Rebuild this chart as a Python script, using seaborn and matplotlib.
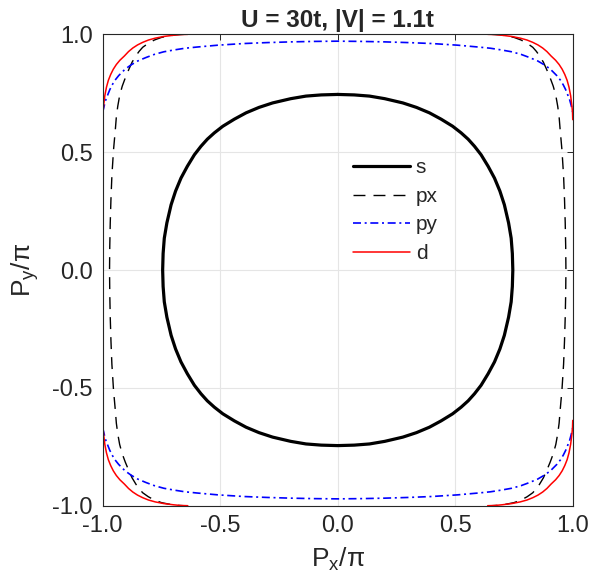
import numpy as np
import pandas as pd
import matplotlib
matplotlib.use("Agg")
import matplotlib.pyplot as plt
from matplotlib.lines import Line2D
import seaborn as sns

# Fermi-surface contours in units of pi, first-quadrant points
# s-wave: closed pocket around the zone centre, from (0, top) to (side, 0)
s_x = [0.000, 0.070, 0.135, 0.200, 0.277, 0.335, 0.390, 0.440, 0.489, 0.525,
       0.555, 0.582, 0.610, 0.640, 0.667, 0.690, 0.709, 0.727, 0.738, 0.743, 0.745]
s_y = [0.745, 0.743, 0.738, 0.727, 0.709, 0.690, 0.667, 0.640, 0.610, 0.582,
       0.555, 0.525, 0.489, 0.440, 0.390, 0.335, 0.277, 0.200, 0.135, 0.070, 0.000]

# px: open contour from the top zone edge down to the Px axis
px_x = [0.655, 0.690, 0.720, 0.750, 0.780, 0.806, 0.830, 0.845, 0.858, 0.875,
        0.889, 0.904, 0.917, 0.928, 0.936, 0.942, 0.946, 0.954, 0.961, 0.965,
        0.968, 0.970, 0.971]
px_y = [1.000, 0.998, 0.993, 0.987, 0.976, 0.962, 0.945, 0.928, 0.910, 0.882,
        0.851, 0.815, 0.780, 0.740, 0.695, 0.650, 0.600, 0.510, 0.400, 0.300,
        0.200, 0.100, 0.000]

# py: open contour from the Py axis out to the right zone edge
py_x = [0.000, 0.100, 0.200, 0.300, 0.400, 0.510, 0.600, 0.650, 0.695, 0.740,
        0.780, 0.815, 0.851, 0.880, 0.905, 0.932, 0.948, 0.960, 0.970, 0.978,
        0.987, 0.993, 1.000]
py_y = [0.971, 0.970, 0.968, 0.965, 0.961, 0.954, 0.946, 0.941, 0.934, 0.926,
        0.915, 0.902, 0.887, 0.870, 0.852, 0.825, 0.805, 0.785, 0.765, 0.745,
        0.722, 0.700, 0.670]

# d-wave: arc around the zone corner (1, 1)
d_x = [0.638, 0.670, 0.700, 0.740, 0.776, 0.805, 0.830, 0.852, 0.872, 0.890,
       0.908, 0.927, 0.942, 0.955, 0.966, 0.976, 0.984, 0.991, 0.996, 0.999, 1.000]
d_y = [1.000, 0.999, 0.996, 0.991, 0.984, 0.976, 0.966, 0.955, 0.942, 0.927,
       0.908, 0.890, 0.872, 0.852, 0.830, 0.805, 0.776, 0.740, 0.700, 0.670, 0.638]

series_names = ["s", "px", "py", "d"]
tick_values = [-1.0, -0.5, 0.0, 0.5, 1.0]
tick_labels = ["-1.0", "-0.5", "0.0", "0.5", "1.0"]


def rows(name, branch, x, y):
    return pd.DataFrame({"series": name, "branch": branch,
                         "x": np.asarray(x, float), "y": np.asarray(y, float)})


def closed_pocket(qx, qy):
    qx, qy = np.asarray(qx), np.asarray(qy)
    x = np.concatenate([qx, qx[::-1][1:], -qx[1:], -qx[::-1][1:]])
    y = np.concatenate([qy, -qy[::-1][1:], -qy[1:], qy[::-1][1:]])
    return [rows("s", 0, x, y)]


def vertical_branches(name, qx, qy):
    qx, qy = np.asarray(qx), np.asarray(qy)
    x = np.concatenate([qx, qx[::-1][1:]])
    y = np.concatenate([qy, -qy[::-1][1:]])
    return [rows(name, 0, x, y), rows(name, 1, -x, y)]


def horizontal_branches(name, qx, qy):
    qx, qy = np.asarray(qx), np.asarray(qy)
    x = np.concatenate([-qx[::-1], qx[1:]])
    y = np.concatenate([qy[::-1], qy[1:]])
    return [rows(name, 0, x, y), rows(name, 1, x, -y)]


def corner_arcs(name, qx, qy):
    qx, qy = np.asarray(qx), np.asarray(qy)
    return [rows(name, i, sx * qx, sy * qy)
            for i, (sx, sy) in enumerate([(1, 1), (1, -1), (-1, -1), (-1, 1)])]


df = pd.concat(closed_pocket(s_x, s_y)
               + vertical_branches("px", px_x, px_y)
               + horizontal_branches("py", py_x, py_y)
               + corner_arcs("d", d_x, d_y), ignore_index=True)

sns.set_theme(style="white")
plt.rcParams["font.family"] = ["Liberation Sans", "DejaVu Sans"]
plt.rcParams["mathtext.default"] = "regular"

fig = plt.figure(figsize=(5.89, 5.87), dpi=100)
ax = fig.add_axes([0.1744, 0.1385, 0.798, 0.803])

styles = {
    "s":  dict(color="black", linewidth=2.3, linestyle="-"),
    "px": dict(color="black", linewidth=1.0, linestyle=(0, (8.6, 5.8))),
    "py": dict(color="#0000ff", linewidth=1.2, linestyle=(0, (4.8, 2.2, 1.2, 2.2))),
    "d":  dict(color="#ff0000", linewidth=1.1, linestyle="-"),
}

for name in series_names:
    sns.lineplot(data=df[df["series"] == name], x="x", y="y", units="branch",
                 estimator=None, sort=False, legend=False, ax=ax, **styles[name])

handles = [Line2D([], [], **styles[name]) for name in series_names]
ax.legend(handles, series_names, loc="upper left", bbox_to_anchor=(0.532, 0.737),
          frameon=False, fontsize=15, handlelength=2.75, handletextpad=0.28,
          labelspacing=0.46, borderpad=0, borderaxespad=0)

ax.set_xlim(-1, 1)
ax.set_ylim(-1, 1)
ax.set_xticks(tick_values)
ax.set_xticklabels(tick_labels)
ax.set_yticks(tick_values)
ax.set_yticklabels(tick_labels)
ax.grid(True, color="#e5e5e5", linewidth=0.8)
ax.set_axisbelow(True)
ax.tick_params(direction="in", top=True, right=True, length=4, width=0.7,
               color="#262626", labelcolor="#262626", labelsize=17, pad=7)
for sp in ax.spines.values():
    sp.set_color("#262626")
    sp.set_linewidth(0.8)

ax.set_xlabel(r"$P_x/\pi$", fontsize=19, color="#262626", labelpad=6)
ax.set_ylabel(r"$P_y/\pi$", fontsize=19, color="#262626", labelpad=8)
ax.set_title("U = 30t, |V| = 1.1t", fontsize=17.5, fontweight="bold", pad=5)

fig.savefig("out.png", dpi=100)
